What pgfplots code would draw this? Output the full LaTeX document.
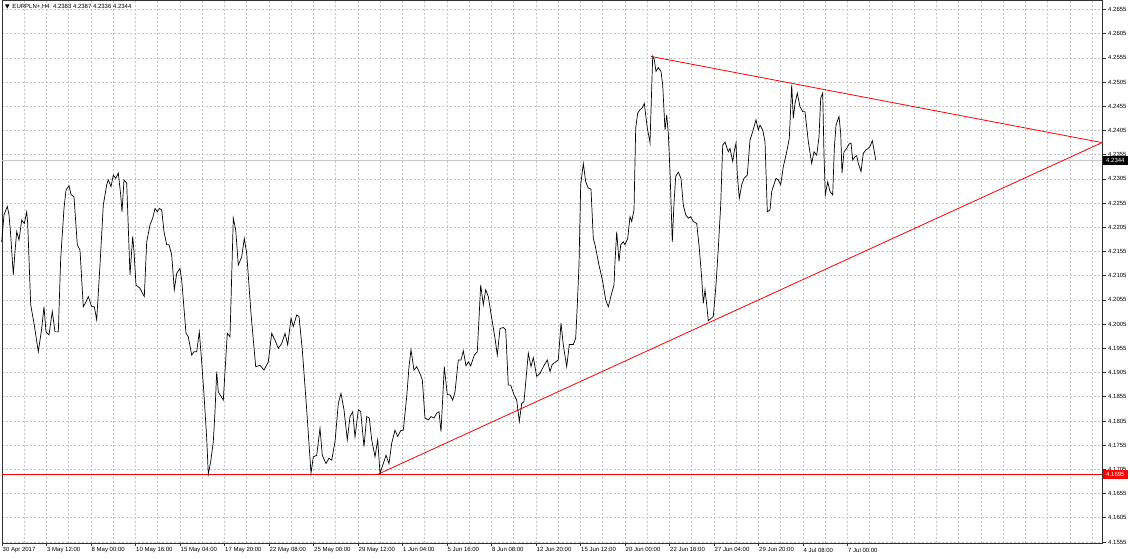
\documentclass[border=0pt]{standalone}
\usepackage{fontspec}
\setmainfont{Liberation Sans}
\usepackage{pgfplots}
\pgfplotsset{compat=1.18}
\usepackage{pgfplotstable}

\definecolor{mtred}{RGB}{255,0,0}
\definecolor{gridc}{RGB}{196,196,196}
\definecolor{curline}{RGB}{200,200,200}
\newcommand{\mtfont}{\fontsize{6}{7}\selectfont}

% EURPLN H4 close, x = bar position in chart pixels
\pgfplotstableread{
x y
1.7 4.2175
4 4.2231
7.3 4.2248
9 4.2231
10.7 4.2189
13.3 4.2107
15 4.2155
16.7 4.2196
19 4.2179
21.7 4.2220
24.3 4.2213
26.7 4.2237
27.7 4.2213
30.7 4.2045
34.3 4.2003
38.3 4.1948
41.7 4.1996
44 4.2041
46 4.1989
49 4.1983
52.3 4.2031
55 4.1989
58.3 4.1989
60.7 4.2141
64 4.2244
66 4.2282
69 4.2291
71 4.2273
74 4.2268
77.3 4.2169
80 4.2158
83.3 4.2041
86 4.2051
88.3 4.2062
91.7 4.2041
94.3 4.2041
96.7 4.2014
100 4.2127
103.3 4.2251
106.7 4.2293
108.3 4.2303
111 4.2289
113.3 4.2313
115.7 4.2306
118.3 4.2317
120.7 4.2272
122 4.2237
124 4.2303
126.7 4.2296
130 4.2107
132.7 4.2186
134 4.2155
136 4.2086
140 4.2079
144.3 4.2062
146.7 4.2175
150 4.2210
152.7 4.2224
155 4.2244
157.3 4.2237
159.3 4.2244
161.7 4.2241
164 4.2196
166.7 4.2169
169 4.2169
171.7 4.2148
174.3 4.2076
176.7 4.2110
180 4.2120
181.7 4.2096
186 4.1986
188.3 4.1979
191.7 4.1941
194 4.1948
196.7 4.1948
199.3 4.1989
201.7 4.1927
204 4.1859
206.7 4.1769
208.3 4.1695
210.7 4.1721
213.3 4.1762
215 4.1824
216.7 4.1907
218.3 4.1865
223.3 4.1848
227.3 4.1986
230 4.1979
233.3 4.2224
235.7 4.2200
238.3 4.2127
241.7 4.2144
244.3 4.2182
246.7 4.2151
251 4.2027
255.7 4.1917
260 4.1920
264 4.1910
268.3 4.1927
271.7 4.1986
275 4.1972
278.3 4.1955
281.7 4.1965
285 4.1986
287.7 4.1962
291 4.2017
293.3 4.2000
296.7 4.2024
299 4.2021
302.3 4.1952
306.7 4.1828
311 4.1697
313.3 4.1731
316.7 4.1734
320 4.1790
322.3 4.1734
326 4.1717
329 4.1728
331.7 4.1724
335 4.1762
338.3 4.1841
341 4.1862
344 4.1828
347.3 4.1766
350 4.1814
352.7 4.1824
355 4.1772
358.3 4.1828
360.7 4.1824
364 4.1752
366.7 4.1814
369.3 4.1811
371.7 4.1766
375 4.1731
377.7 4.1766
380 4.1697
383.3 4.1717
386 4.1734
389 4.1717
391.7 4.1759
395 4.1786
397.7 4.1773
400.7 4.1785
403.3 4.1786
406.7 4.1855
409 4.1917
411 4.1952
414 4.1910
416.7 4.1917
420 4.1903
422.3 4.1890
425 4.1811
428.3 4.1807
431 4.1814
434 4.1811
436.7 4.1821
439 4.1824
441 4.1783
444.3 4.1917
447.3 4.1859
450 4.1859
452.7 4.1848
455 4.1865
458.3 4.1931
461 4.1931
463.3 4.1950
466 4.1919
468.3 4.1927
470.7 4.1919
474.3 4.1941
477.3 4.1948
480.7 4.2086
483.3 4.2045
485.7 4.2076
488.3 4.2062
491.7 4.2017
495 4.1976
497.3 4.1941
500 4.1996
503.3 4.1998
505.7 4.1993
508.3 4.1879
510.7 4.1879
514 4.1859
516.7 4.1848
519.3 4.1804
521.7 4.1841
524 4.1845
528.3 4.1945
531 4.1917
533.3 4.1936
536.7 4.1897
540 4.1903
543.3 4.1917
547.3 4.1931
550 4.1907
552.3 4.1922
555.7 4.1927
558.3 4.1931
561 4.2007
563.3 4.1962
566.7 4.1917
569.3 4.1963
573.3 4.1963
575.7 4.1976
577.3 4.2045
579 4.2127
580.7 4.2293
583.3 4.2337
585.7 4.2299
588.3 4.2286
591 4.2284
593.3 4.2182
595 4.2169
599 4.2127
602.7 4.2093
605.7 4.2055
608.3 4.2041
611.7 4.2069
614 4.2086
615 4.2134
616.7 4.2196
619 4.2134
620.7 4.2169
623.3 4.2175
625 4.2169
627.7 4.2182
630 4.2227
631.7 4.2217
634 4.2241
635.7 4.2410
637.7 4.2441
640 4.2448
642.3 4.2452
644.3 4.2461
645.7 4.2437
647.3 4.2410
650 4.2380
652.7 4.2558
654.3 4.2551
656 4.2527
658.3 4.2535
661 4.2527
662.7 4.2499
665 4.2406
666.7 4.2437
668.3 4.2399
670 4.2320
672.3 4.2175
674 4.2255
675.7 4.2310
678.3 4.2319
681 4.2306
683.3 4.2251
685.7 4.2231
688.3 4.2224
690.7 4.2227
693.3 4.2217
696.7 4.2213
699.3 4.2162
701.7 4.2100
703.3 4.2048
705 4.2076
706.7 4.2045
708.3 4.2012
711.7 4.2018
713.3 4.2021
716 4.2086
718.3 4.2162
720.7 4.2251
722.7 4.2375
725 4.2381
728.3 4.2361
730 4.2368
732.7 4.2341
734.3 4.2363
736 4.2379
737.3 4.2313
739.3 4.2265
741.7 4.2293
744 4.2306
747.3 4.2313
750 4.2385
752.7 4.2403
756 4.2427
758.3 4.2406
760 4.2416
762.7 4.2406
765 4.2382
767.3 4.2237
770 4.2241
771.7 4.2279
776 4.2306
778.3 4.2303
780.7 4.2293
783.3 4.2330
786.7 4.2361
789.3 4.2389
791.7 4.2499
793.3 4.2430
795 4.2461
797.3 4.2482
800 4.2454
802.7 4.2444
805 4.2444
808.3 4.2382
811.7 4.2337
814 4.2361
816.7 4.2354
819 4.2392
820.7 4.2472
822.7 4.2482
824 4.2354
825.3 4.2272
827.7 4.2299
830 4.2279
832.7 4.2272
834.3 4.2368
836 4.2416
839 4.2434
840.7 4.2399
842 4.2317
844 4.2361
846.7 4.2368
849 4.2377
851 4.2379
852.7 4.2344
855 4.2351
856.7 4.2353
858.3 4.2337
861 4.2320
863.3 4.2358
866 4.2365
868.3 4.2368
870 4.2372
872.3 4.2384
874 4.2365
875.7 4.2344
}\eurpln

\begin{document}
\begin{tikzpicture}[x=1pt,y=1pt]
\path[use as bounding box] (0,0) rectangle (1130,559);
\begin{axis}[
    at={(2pt,16pt)}, anchor=south west,
    scale only axis,
    width=1100pt, height=543pt,
    xmin=2, xmax=1102,
    ymin=4.15529, ymax=4.26746,
    clip=false,
    axis line style={black!80, line width=0.8pt},
    tick align=outside,
    xtick pos=lower, ytick pos=right,
    yticklabel pos=right,
    major tick length=3.5pt, minor tick length=0pt,
    tick style={black!80, line width=0.6pt},
    xtick={2,46.5,91,135.5,180,224.5,269,313.5,358,402.5,447,491.5,536,580.5,625,669.5,714,758.5,803,847.5},
    xticklabels={30 Apr 2017,3 May 12:00,8 May 00:00,10 May 16:00,15 May 04:00,17 May 20:00,22 May 08:00,25 May 00:00,29 May 12:00,1 Jun 04:00,5 Jun 16:00,8 Jun 08:00,12 Jun 20:00,15 Jun 12:00,20 Jun 00:00,22 Jun 16:00,27 Jun 04:00,29 Jun 20:00,4 Jul 08:00,7 Jul 00:00},
    minor xtick={2,24.25,...,1100},
    ytick={4.1555,4.1605,4.1655,4.1705,4.1755,4.1805,4.1855,4.1905,4.1955,4.2005,4.2055,4.2105,4.2155,4.2205,4.2255,4.2305,4.2355,4.2405,4.2455,4.2505,4.2555,4.2605,4.2655},
    yticklabels={4.1555,4.1605,4.1655,4.1705,4.1755,4.1805,4.1855,4.1905,4.1955,4.2005,4.2055,4.2105,4.2155,4.2205,4.2255,4.2305,4.2355,4.2405,4.2455,4.2505,4.2555,4.2605,4.2655},
    xmajorgrids=false, xminorgrids=true, ymajorgrids=true,
    major grid style={gridc, dash pattern=on 2pt off 2pt, line width=0.6pt},
    minor grid style={gridc, dash pattern=on 2pt off 2pt, line width=0.6pt},
    ticklabel style={font=\mtfont, text=black},
    xticklabel style={anchor=north west, inner sep=0pt, xshift=0.5pt, yshift=-1pt},
    yticklabel style={anchor=west, inner sep=0pt, xshift=2.5pt},
]
\addplot[curline, line width=0.8pt, forget plot] coordinates {(2,4.2344) (1102,4.2344)};
\addplot[mtred, line width=0.8pt] coordinates {(2,4.1695) (1102,4.1695)};
\addplot[mtred, line width=0.8pt] coordinates {(378,4.1695) (1102,4.2380)};
\addplot[mtred, line width=0.8pt] coordinates {(651,4.2558) (1102,4.2380)};
\addplot[black, line width=0.7pt, sharp plot, no marks] table[x=x, y=y] {\eurpln};
\coordinate (cur) at (axis cs:1102,4.2344);
\coordinate (sup) at (axis cs:1102,4.1695);
\end{axis}
\node[fill=black, text=white, anchor=west, inner xsep=3pt, inner ysep=0pt,
      minimum height=9pt, font=\mtfont] at ([xshift=1pt]cur) {4.2344};
\node[fill=mtred, text=white, anchor=west, inner xsep=3pt, inner ysep=0pt,
      minimum height=9pt, font=\mtfont] at ([xshift=1pt]sup) {4.1695};
\fill[black] (5,554.5) -- (9.5,554.5) -- (7.25,550.5) -- cycle;
\node[anchor=west, inner sep=0pt, font=\mtfont] at (12.3,552.5)
  {EURPLN+,H4\ \ 4.2383 4.2387 4.2336 4.2344};
\end{tikzpicture}
\end{document}
